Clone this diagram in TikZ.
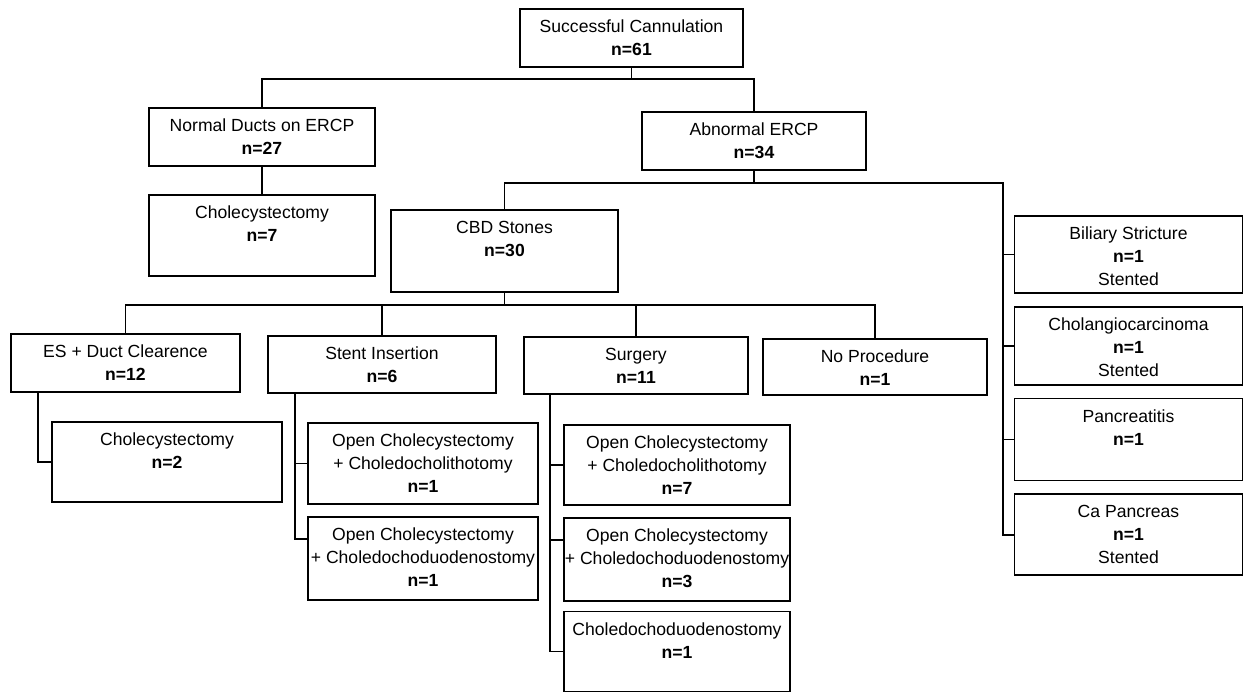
\documentclass[tikz,border=0pt]{standalone}
\usepackage{fontspec}
\setmainfont{Liberation Sans}
\usetikzlibrary{positioning,calc}

\newlength{\pxu}
\setlength{\pxu}{0.02cm}
\newcommand{\boxtxt}[3]{\parbox[c][#2\pxu][t]{#1\pxu}{\centering\rule{0pt}{13.5pt}#3}}

\tikzset{
  box/.style={draw,line width=1pt,inner sep=0pt,font=\fontsize{10pt}{13pt}\selectfont},
  link/.style={line width=1pt}
}

\begin{document}
\begin{tikzpicture}[x=0.02cm,y=-0.02cm,node distance=0.22cm]
  \useasboundingbox (0,0) rectangle (1244,692);

  \node[box] (cann) at (631.5,38) {\boxtxt{223}{58}{Successful Cannulation\\\textbf{n=61}}};
  \node[box] (normal) at (262,137) {\boxtxt{226}{58}{Normal Ducts on ERCP\\\textbf{n=27}}};
  \node[box] (abnormal) at (754,141) {\boxtxt{224}{58}{Abnormal ERCP\\\textbf{n=34}}};
  \node[box] (cholA) at (262,235.5) {\boxtxt{226}{81}{Cholecystectomy\\\textbf{n=7}}};
  \node[box] (cbd) at (504.5,251) {\boxtxt{227}{82}{CBD Stones\\\textbf{n=30}}};

  \node[box] (esdc) at (125.5,363) {\boxtxt{229}{58}{ES + Duct Clearence\\\textbf{n=12}}};
  \node[box] (stent) at (382,364.5) {\boxtxt{228}{57}{Stent Insertion\\\textbf{n=6}}};
  \node[box] (surgery) at (636,365.5) {\boxtxt{224}{57}{Surgery\\\textbf{n=11}}};
  \node[box] (noproc) at (875,367) {\boxtxt{224}{56}{No Procedure\\\textbf{n=1}}};

  \node[box] (cholB) at (167,462) {\boxtxt{230}{80}{Cholecystectomy\\\textbf{n=2}}};
  \node[box] (stentA) at (423,463.5) {\boxtxt{230}{81}{Open Cholecystectomy\\+ Choledocholithotomy\\\textbf{n=1}}};
  \node[box,below=of stentA] (stentB) {\boxtxt{230}{83}{Open Cholecystectomy\\+ Choledochoduodenostomy\\\textbf{n=1}}};
  \node[box] (surgA) at (677,465) {\boxtxt{226}{80}{Open Cholecystectomy\\+ Choledocholithotomy\\\textbf{n=7}}};
  \node[box,below=of surgA] (surgB) {\boxtxt{226}{83}{Open Cholecystectomy\\+ Choledochoduodenostomy\\\textbf{n=3}}};
  \node[box,below=0.18cm of surgB] (surgC) {\boxtxt{226}{80}{Choledochoduodenostomy\\\textbf{n=1}}};

  \node[box] (bilstr) at (1128.5,254.5) {\boxtxt{228}{77}{Biliary Stricture\\\textbf{n=1}\\Stented}};
  \node[box,below=0.24cm of bilstr] (cholangio) {\boxtxt{228}{78}{Cholangiocarcinoma\\\textbf{n=1}\\Stented}};
  \node[box,below=0.24cm of cholangio] (pancr) {\boxtxt{228}{82}{Pancreatitis\\\textbf{n=1}}};
  \node[box,below=0.24cm of pancr] (capanc) {\boxtxt{228}{81}{Ca Pancreas\\\textbf{n=1}\\Stented}};

  \coordinate (jA) at (631.5,79);
  \coordinate (jB) at (754,183);
  \coordinate (jC) at (504.5,305);

  \draw[link] (cann.south) -- (jA);
  \draw[link] (normal.north) |- (jA) -| (abnormal.north);
  \draw[link] (normal.south) -- (cholA.north);

  \draw[link] (abnormal.south) -- (jB);
  \draw[link] (cbd.north) |- (jB) -| ($(capanc.west)+(-10.5,0)$) -- (capanc.west);
  \foreach \n in {bilstr,cholangio,pancr}
    \draw[link] (\n.west) -- ++(-10.5,0);

  \draw[link] (cbd.south) -- (jC);
  \draw[link] (esdc.north) |- (jC) -| (noproc.north);
  \draw[link] (stent.north) -- (stent.north |- jC);
  \draw[link] (surgery.north) -- (surgery.north |- jC);

  \draw[link] ($(esdc.south west)+(28,0)$) |- (cholB.west);
  \draw[link] ($(stent.south west)+(28,0)$) |- ($(stentB.west)+(0,-19.5)$);
  \draw[link] (stentA.west) -- ++(-12,0);
  \draw[link] ($(surgery.south west)+(27,0)$) |- (surgC.west);
  \draw[link] (surgA.west) -- ++(-13,0);
  \draw[link] ($(surgB.west)+(0,-19.5)$) -- ++(-13,0);
\end{tikzpicture}
\end{document}
